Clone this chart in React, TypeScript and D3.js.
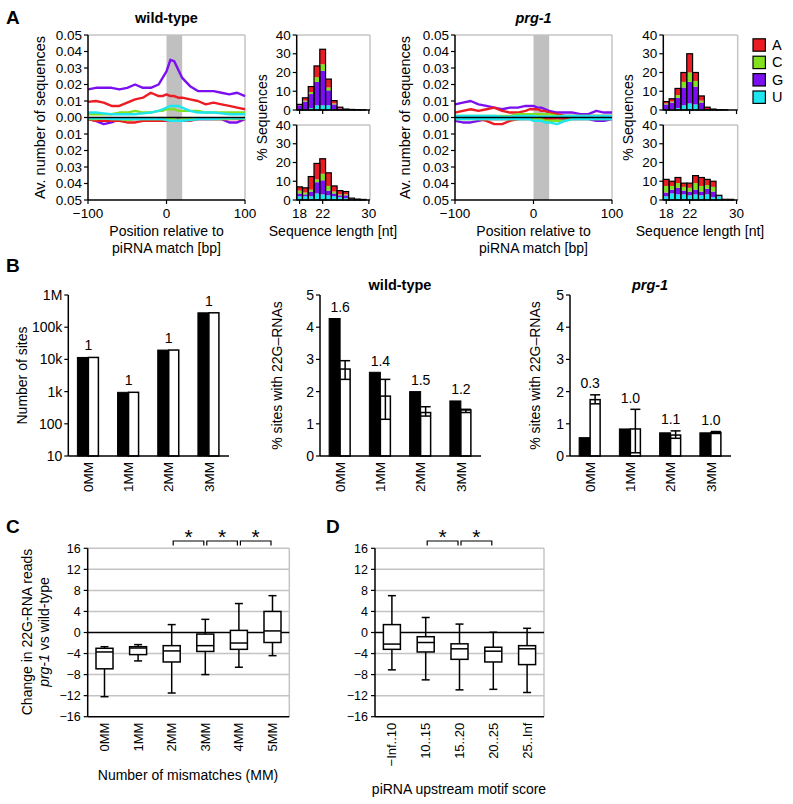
import React from 'react';
import * as d3 from 'd3';

const FONT = '"Liberation Sans", Arial, Helvetica, sans-serif';
const COLORS: Record<string, string> = { A: '#ec1c24', C: '#82e01e', G: '#7b0ff0', U: '#1ee6f0' };
const FRAME = '#c4c4c4';
const NUC_STACK = ['U', 'G', 'C', 'A'];
const LEGEND_KEYS = ['A', 'C', 'G', 'U'];

// ---------- Panel A: profiles ----------
const positions = [-100, -90, -80, -70, -60, -50, -40, -30, -20, -10, -5, 0, 5, 10, 15, 20, 30, 40, 50, 60, 70, 80, 90, 100];

const wtSenseG = [0.017, 0.018, 0.018, 0.018, 0.017, 0.018, 0.020, 0.018, 0.018, 0.020, 0.024, 0.028, 0.035, 0.034, 0.029, 0.024, 0.019, 0.016, 0.016, 0.016, 0.015, 0.014, 0.015, 0.013];
const wtSenseA = [0.0095, 0.010, 0.009, 0.007, 0.007, 0.009, 0.011, 0.012, 0.015, 0.013, 0.013, 0.014, 0.013, 0.013, 0.012, 0.012, 0.011, 0.010, 0.008, 0.009, 0.008, 0.007, 0.006, 0.005];
const wtSenseC = [0.002, 0.002, 0.002, 0.002, 0.003, 0.003, 0.004, 0.003, 0.003, 0.004, 0.004, 0.005, 0.005, 0.005, 0.004, 0.004, 0.004, 0.004, 0.003, 0.003, 0.003, 0.003, 0.003, 0.003];
const wtSenseU = [0.003, 0.003, 0.0025, 0.002, 0.002, 0.002, 0.002, 0.0025, 0.003, 0.004, 0.005, 0.006, 0.007, 0.007, 0.007, 0.006, 0.004, 0.003, 0.003, 0.003, 0.0025, 0.002, 0.002, 0.002];
const wtAntiG = [0.001, 0.002, 0.004, 0.003, 0.001, 0.001, 0.001, 0.001, 0.001, 0.001, 0.0005, 0.0005, 0.0005, 0.001, 0.001, 0.001, 0.001, 0.001, 0.001, 0.001, 0.001, 0.003, 0.003, 0.001];
const wtAntiA = [0.001, 0.002, 0.002, 0.002, 0.002, 0.003, 0.003, 0.002, 0.002, 0.002, 0.002, 0.002, 0.002, 0.002, 0.002, 0.002, 0.002, 0.001, 0.001, 0.001, 0.001, 0.001, 0.001, 0.001];
const wtAntiC = [0.001, 0.001, 0.0005, 0.001, 0.001, 0.0015, 0.001, 0.001, 0.001, 0.001, 0.001, 0.001, 0.001, 0.001, 0.0015, 0.001, 0.001, 0.001, 0.0005, 0.001, 0.001, 0.001, 0.0005, 0.001];
const wtAntiU = [0.0005, 0.0005, 0.0005, 0.001, 0.001, 0.001, 0.001, 0.001, 0.001, 0.001, 0.001, 0.0015, 0.002, 0.002, 0.002, 0.002, 0.0015, 0.001, 0.001, 0.001, 0.0005, 0.0005, 0.0005, 0.0005];

const prgSenseG = [0.008, 0.009, 0.010, 0.008, 0.007, 0.006, 0.005, 0.006, 0.006, 0.007, 0.007, 0.007, 0.006, 0.006, 0.005, 0.004, 0.003, 0.003, 0.003, 0.002, 0.002, 0.004, 0.003, 0.003];
const prgSenseA = [0.003, 0.004, 0.005, 0.004, 0.005, 0.006, 0.004, 0.003, 0.003, 0.004, 0.005, 0.005, 0.005, 0.004, 0.004, 0.003, 0.002, 0.001, 0.001, 0.001, 0.001, 0.001, 0.001, 0.001];
const prgSenseC = [0.001, 0.001, 0.001, 0.001, 0.001, 0.001, 0.001, 0.001, 0.002, 0.002, 0.002, 0.002, 0.002, 0.002, 0.002, 0.002, 0.001, 0.001, 0.001, 0.001, 0.001, 0.001, 0.001, 0.001];
const prgSenseU = [0.001, 0.001, 0.001, 0.001, 0.001, 0.001, 0.0005, 0.0005, 0.001, 0.001, 0.001, 0.001, 0.0005, 0.0005, 0.0005, 0.0005, 0.0005, 0.001, 0.001, 0.001, 0.001, 0.001, 0.001, 0.001];
const prgAntiG = [0.002, 0.003, 0.003, 0.002, 0.001, 0.001, 0.001, 0.001, 0.001, 0.001, 0.001, 0.001, 0.001, 0.002, 0.002, 0.002, 0.002, 0.001, 0.001, 0.001, 0.001, 0.002, 0.002, 0.001];
const prgAntiA = [0.0005, 0.0005, 0.0005, 0.001, 0.002, 0.004, 0.004, 0.002, 0.001, 0.0005, 0.0005, 0.001, 0.001, 0.001, 0.001, 0.001, 0.0005, 0.0005, 0.0005, 0.0005, 0.0005, 0.0005, 0.0005, 0.0005];
const prgAntiC = [0.001, 0.001, 0.001, 0.001, 0.001, 0.001, 0.001, 0.001, 0.001, 0.001, 0.001, 0.001, 0.001, 0.001, 0.002, 0.002, 0.002, 0.002, 0.001, 0.001, 0.001, 0.001, 0.001, 0.001];
const prgAntiU = [0.001, 0.001, 0.001, 0.001, 0.001, 0.001, 0.001, 0.001, 0.001, 0.001, 0.001, 0.002, 0.002, 0.002, 0.003, 0.003, 0.004, 0.002, 0.001, 0.001, 0.001, 0.001, 0.001, 0.001];

// ---------- Panel A: length histograms ----------
const lengths = [18, 19, 20, 21, 22, 23, 24, 25, 26, 27, 28, 29];
const wtTopU = [0, 0.5, 1, 2.5, 2.5, 2.5, 0.5, 0, 0, 0, 0, 0];
const wtTopG = [2.5, 4, 7.5, 12.5, 18.4, 8, 2.5, 0.8, 0.3, 0.2, 0.1, 0.05];
const wtTopC = [0, 0.5, 1, 2.5, 3.5, 1.5, 0.5, 0, 0, 0, 0, 0];
const wtTopA = [0.5, 1.5, 3, 6, 8, 4.5, 1.5, 0.7, 0.2, 0.1, 0.1, 0.05];
const wtBotU = [2, 2, 2, 3.5, 3, 2.5, 2, 1.5, 1, 0.3, 0.1, 0.05];
const wtBotG = [1.5, 1, 2.5, 6, 7.5, 2.5, 1.5, 1, 1.5, 0.4, 0.2, 0.1];
const wtBotC = [1.5, 1, 1, 1.5, 3.5, 2.5, 1, 0.5, 0.5, 0.1, 0.1, 0.05];
const wtBotA = [2, 2.5, 7, 8.5, 8, 7, 3, 2, 1.5, 0.2, 0.1, 0.1];
const prgTopU = [0.5, 0.5, 1, 2.5, 3.5, 3, 0.5, 0, 0, 0, 0, 0];
const prgTopG = [2.5, 3.5, 5.5, 9.5, 11.5, 9.5, 3.5, 0.5, 0.2, 0.1, 0.05, 0];
const prgTopC = [0.5, 0.5, 1.5, 3, 5, 3, 1, 0, 0, 0, 0, 0];
const prgTopA = [1, 1.5, 3.5, 5, 10, 4.5, 2.5, 1, 0.3, 0.1, 0.05, 0];
const prgBotU = [2, 3.5, 3, 3, 2.5, 3, 2.5, 3, 1.5, 2, 0.2, 0.2];
const prgBotG = [2, 2, 3.5, 2, 2, 2.5, 2, 3, 3, 0.3, 0.05, 0.05];
const prgBotC = [3.5, 2, 2.5, 2, 2, 3.5, 3, 2, 2.5, 0.1, 0.05, 0.05];
const prgBotA = [3.5, 2.5, 3, 2, 2.5, 4, 4.5, 3, 3, 0.1, 0.05, 0.05];

// ---------- Panel B ----------
const mmCats = ['0MM', '1MM', '2MM', '3MM'];
const sitesBlack = [11500, 950, 19500, 280000];
const sitesWhite = [11500, 950, 19500, 280000];
const sitesRatio = ['1', '1', '1', '1'];
const sitesTicks = [10, 100, 1000, 10000, 100000, 1000000];
const sitesTickLabels = ['10', '100', '1k', '10k', '100k', '1M'];

const wtPctBlack = [4.27, 2.6, 2.0, 1.71];
const wtPctWhite = [2.7, 1.86, 1.35, 1.43];
const wtPctErrLo = [2.38, 1.14, 1.24, 1.35];
const wtPctErrHi = [2.96, 2.38, 1.53, 1.45];
const wtPctRatio = ['1.6', '1.4', '1.5', '1.2'];

const prgPctBlack = [0.57, 0.84, 0.72, 0.72];
const prgPctWhite = [1.75, 0.84, 0.65, 0.73];
const prgPctErrLo = [1.62, 0.1, 0.55, 0.7];
const prgPctErrHi = [1.9, 1.45, 0.78, 0.76];
const prgPctRatio = ['0.3', '1.0', '1.1', '1.0'];
const pctTicks = [0, 1, 2, 3, 4, 5];

// ---------- Panel C ----------
const cCats = ['0MM', '1MM', '2MM', '3MM', '4MM', '5MM'];
const cLo = [-12.2, -5.4, -11.5, -8.0, -6.6, -4.4];
const cQ1 = [-6.9, -4.2, -5.6, -3.6, -3.2, -1.9];
const cMed = [-3.7, -2.95, -3.5, -2.5, -2.0, 0.3];
const cQ3 = [-3.0, -2.7, -2.5, -0.3, 0.4, 4.0];
const cHi = [-2.7, -2.3, 1.5, 2.5, 5.5, 7.0];
const cSig = [[2, 3], [3, 4], [4, 5]];

// ---------- Panel D ----------
const dCats = ['\u2212Inf..10', '10..15', '15..20', '20..25', '25..Inf'];
const dLo = [-7.1, -9.0, -10.9, -10.8, -11.4];
const dQ1 = [-3.2, -3.7, -5.1, -5.6, -6.1];
const dMed = [-2.2, -1.9, -3.1, -3.55, -3.1];
const dQ3 = [1.5, -0.8, -2.15, -2.8, -2.5];
const dHi = [7.0, 2.85, 1.6, 0.05, 0.8];
const dSig = [[1, 2], [2, 3]];
const boxTicks = [-16, -12, -8, -4, 0, 4, 8, 12, 16];

const fmtMinus = (v: number) => (v < 0 ? '\u2212' + Math.abs(v) : String(v));

// ====================================================
function Profile(props: any) {
  const { x0, x1, y0, y1, sense, anti } = props;
  const xs = d3.scaleLinear().domain([-100, 100]).range([x0, x1]);
  const ys = d3.scaleLinear().domain([-0.05, 0.05]).range([y1, y0]);
  const line = d3.line<number>().x((_, i) => xs(positions[i])).y((d) => ys(d));
  const order = ['G', 'A', 'C', 'U'];
  const yt = d3.range(-5, 6).map((k) => k / 100);
  return (
    <g>
      <rect x={xs(0)} y={y0} width={xs(20) - xs(0)} height={y1 - y0} fill="#c0c0c0" />
      <line x1={x0} x2={x1} y1={y0} y2={y0} stroke={FRAME} strokeWidth={1.5} />
      <line x1={x1} x2={x1} y1={y0} y2={y1} stroke={FRAME} strokeWidth={1.5} />
      {order.map((k) => (
        <path key={'a' + k} d={line(anti[k].map((v: number) => -v)) || ''} fill="none" stroke={COLORS[k]} strokeWidth={2.4} strokeLinejoin="round" />
      ))}
      {order.map((k) => (
        <path key={'s' + k} d={line(sense[k]) || ''} fill="none" stroke={COLORS[k]} strokeWidth={2.4} strokeLinejoin="round" />
      ))}
      <line x1={x0} x2={x1} y1={ys(0)} y2={ys(0)} stroke="#000" strokeWidth={1.5} />
      <line x1={x0} x2={x0} y1={y0} y2={y1} stroke="#000" strokeWidth={1.5} />
      <line x1={x0} x2={x1} y1={y1} y2={y1} stroke="#000" strokeWidth={1.5} />
      {yt.map((t) => (
        <g key={t}>
          <line x1={x0 - 4} x2={x0} y1={ys(t)} y2={ys(t)} stroke="#000" strokeWidth={1.2} />
          <text x={x0 - 6} y={ys(t)} dy="0.35em" textAnchor="end" fontSize={13.5}>{Math.abs(t).toFixed(2)}</text>
        </g>
      ))}
      {[-100, 0, 100].map((t) => (
        <g key={t}>
          <line x1={xs(t)} x2={xs(t)} y1={y1} y2={y1 + 4} stroke="#000" strokeWidth={1.2} />
          <text x={xs(t)} y={y1 + 13} dy="0.35em" textAnchor="middle" fontSize={13.5}>{fmtMinus(t)}</text>
        </g>
      ))}
      <text x={(x0 + x1) / 2} y={231} dy="0.35em" textAnchor="middle" fontSize={14}>Position relative to</text>
      <text x={(x0 + x1) / 2} y={248} dy="0.35em" textAnchor="middle" fontSize={14}>piRNA match [bp]</text>
      <text transform={`translate(${props.ylx},${(y0 + y1) / 2}) rotate(-90)`} dy="0.35em" textAnchor="middle" fontSize={14.5}>Av. number of sequences</text>
      <text x={(x0 + x1) / 2} y={18} dy="0.35em" textAnchor="middle" fontSize={14.5} fontWeight="bold" fontStyle={props.italic ? 'italic' : 'normal'}>{props.title}</text>
    </g>
  );
}

function Hist(props: any) {
  const { x0, x1, y0, y1, data, labels } = props;
  const xs = d3.scaleLinear().domain([17.5, 30.2]).range([x0, x1]);
  const ys = d3.scaleLinear().domain([0, 40]).range([y1, y0]);
  const rows = lengths.map((l, i) => ({ len: l, U: data.U[i], G: data.G[i], C: data.C[i], A: data.A[i] }));
  const stacked = d3.stack<any>().keys(NUC_STACK)(rows);
  return (
    <g>
      <line x1={x0} x2={x1} y1={y0} y2={y0} stroke={FRAME} strokeWidth={1.5} />
      <line x1={x1} x2={x1} y1={y0} y2={y1} stroke={FRAME} strokeWidth={1.5} />
      {stacked.map((s) => (
        <g key={s.key}>
          {s.map((d: any, i: number) => (
            <rect key={i} x={xs(d.data.len - 0.5)} width={xs(d.data.len + 0.5) - xs(d.data.len - 0.5)} y={ys(d[1])} height={Math.max(0, ys(d[0]) - ys(d[1]))} fill={COLORS[s.key]} />
          ))}
        </g>
      ))}
      {rows.map((r, i) => {
        const tot = r.U + r.G + r.C + r.A;
        return <rect key={i} x={xs(r.len - 0.5)} width={xs(r.len + 0.5) - xs(r.len - 0.5)} y={ys(tot)} height={ys(0) - ys(tot)} fill="none" stroke="#000" strokeWidth={1.2} />;
      })}
      <line x1={x0} x2={x0} y1={y0} y2={y1} stroke="#000" strokeWidth={1.5} />
      <line x1={x0} x2={x1} y1={y1} y2={y1} stroke="#000" strokeWidth={1.5} />
      {[0, 10, 20, 30, 40].map((t) => (
        <g key={t}>
          <line x1={x0 - 4} x2={x0} y1={ys(t)} y2={ys(t)} stroke="#000" strokeWidth={1.2} />
          <text x={x0 - 6} y={ys(t)} dy="0.35em" textAnchor="end" fontSize={13.5}>{t}</text>
        </g>
      ))}
      {[18, 22, 30].map((t) => (
        <g key={t}>
          <line x1={xs(t)} x2={xs(t)} y1={y1} y2={y1 + 4} stroke="#000" strokeWidth={1.2} />
          {labels && <text x={xs(t)} y={y1 + 13} dy="0.35em" textAnchor="middle" fontSize={13.5}>{t}</text>}
        </g>
      ))}
    </g>
  );
}

function PairBars(props: any) {
  const { ax, right, ys, black, white, errLo, errHi, ratios, ticks, tickLabels, labelGap } = props;
  const xb = d3.scaleBand<string>().domain(mmCats).range([ax, right]);
  const y0 = ys.range()[0];
  const y1 = ys.range()[1];
  return (
    <g>
      {mmCats.map((c, i) => {
        const cx = (xb(c) as number) + xb.bandwidth() / 2;
        const topV = Math.max(black[i], errHi ? errHi[i] : white[i]);
        return (
          <g key={c}>
            <rect x={cx - 11} width={11} y={ys(black[i])} height={y0 - ys(black[i])} fill="#000" stroke="#000" strokeWidth={1} />
            <rect x={cx} width={10} y={ys(white[i])} height={y0 - ys(white[i])} fill="#fff" stroke="#000" strokeWidth={1.5} />
            {errHi && (
              <g stroke="#000" strokeWidth={1.5}>
                <line x1={cx + 5} x2={cx + 5} y1={ys(errLo[i])} y2={ys(errHi[i])} />
                <line x1={cx} x2={cx + 10} y1={ys(errLo[i])} y2={ys(errLo[i])} />
                <line x1={cx} x2={cx + 10} y1={ys(errHi[i])} y2={ys(errHi[i])} />
              </g>
            )}
            <text x={cx} y={ys(topV) - labelGap} dy="0.35em" textAnchor="middle" fontSize={14}>{ratios[i]}</text>
            <text transform={`translate(${cx},${y0 + 6}) rotate(-90)`} dy="0.35em" textAnchor="end" fontSize={13.5}>{c}</text>
          </g>
        );
      })}
      <line x1={ax} x2={ax} y1={y1} y2={y0} stroke="#000" strokeWidth={1.5} />
      <line x1={ax} x2={right} y1={y0} y2={y0} stroke="#000" strokeWidth={1.5} />
      {ticks.map((t: number, i: number) => (
        <g key={t}>
          <line x1={ax - 4} x2={ax} y1={ys(t)} y2={ys(t)} stroke="#000" strokeWidth={1.2} />
          <text x={ax - 6} y={ys(t)} dy="0.35em" textAnchor="end" fontSize={14}>{tickLabels[i]}</text>
        </g>
      ))}
      <text transform={`translate(${props.ylx},${(y0 + y1) / 2}) rotate(-90)`} dy="0.35em" textAnchor="middle" fontSize={14}>{props.ylabel}</text>
      {props.title && (
        <text x={props.titleX} y={285} dy="0.35em" textAnchor="middle" fontSize={14.5} fontWeight="bold" fontStyle={props.italic ? 'italic' : 'normal'}>{props.title}</text>
      )}
    </g>
  );
}

function BoxPanel(props: any) {
  const { x0, x1, cats, lo, q1, med, q3, hi, sig } = props;
  const y0 = 548.3;
  const y1 = 716.7;
  const ys = d3.scaleLinear().domain([-16, 16]).range([y1, y0]);
  const xb = d3.scaleBand<string>().domain(cats).range([x0, x1]);
  const cxOf = (i: number) => (xb(cats[i]) as number) + xb.bandwidth() / 2;
  const bw = 17;
  return (
    <g>
      {boxTicks.filter((t) => t !== 0 && t !== -16).map((t) => (
        <line key={t} x1={x0} x2={x1} y1={ys(t)} y2={ys(t)} stroke={FRAME} strokeWidth={1.5} />
      ))}
      <line x1={x1} x2={x1} y1={y0} y2={y1} stroke={FRAME} strokeWidth={1.5} />
      <line x1={x0} x2={x1} y1={ys(0)} y2={ys(0)} stroke="#000" strokeWidth={1.5} />
      {cats.map((c: string, i: number) => {
        const cx = cxOf(i);
        return (
          <g key={c} stroke="#000" strokeWidth={1.5}>
            <line x1={cx} x2={cx} y1={ys(hi[i])} y2={ys(q3[i])} />
            <line x1={cx} x2={cx} y1={ys(q1[i])} y2={ys(lo[i])} />
            <line x1={cx - 4} x2={cx + 4} y1={ys(hi[i])} y2={ys(hi[i])} />
            <line x1={cx - 4} x2={cx + 4} y1={ys(lo[i])} y2={ys(lo[i])} />
            <rect x={cx - bw / 2} width={bw} y={ys(q3[i])} height={ys(q1[i]) - ys(q3[i])} fill="#fff" />
            <line x1={cx - bw / 2} x2={cx + bw / 2} y1={ys(med[i])} y2={ys(med[i])} />
          </g>
        );
      })}
      <line x1={x0} x2={x0} y1={y0} y2={y1} stroke="#000" strokeWidth={1.5} />
      <line x1={x0} x2={x1} y1={y1} y2={y1} stroke="#000" strokeWidth={1.5} />
      {boxTicks.map((t) => (
        <g key={t}>
          <line x1={x0 - 4} x2={x0} y1={ys(t)} y2={ys(t)} stroke="#000" strokeWidth={1.2} />
          <text x={x0 - 7} y={ys(t)} dy="0.35em" textAnchor="end" fontSize={12.5}>{fmtMinus(t)}</text>
        </g>
      ))}
      {cats.map((c: string, i: number) => (
        <text key={c} transform={`translate(${cxOf(i)},${y1 + 6}) rotate(-90)`} dy="0.35em" textAnchor="end" fontSize={13}>{c}</text>
      ))}
      {sig.map((p: number[], k: number) => {
        const a = cxOf(p[0]) + 1.5;
        const b = cxOf(p[1]) - 1.5;
        return (
          <g key={k}>
            <path d={`M${a},545.5V541H${b}V545.5`} fill="none" stroke="#000" strokeWidth={1.2} />
            <text x={(a + b) / 2} y={544} textAnchor="middle" fontSize={21}>*</text>
          </g>
        );
      })}
      <text x={props.xtx} y={props.xty} dy="0.35em" textAnchor="middle" fontSize={14}>{props.xtitle}</text>
    </g>
  );
}

export default function App() {
  const wtSense = { A: wtSenseA, C: wtSenseC, G: wtSenseG, U: wtSenseU };
  const wtAnti = { A: wtAntiA, C: wtAntiC, G: wtAntiG, U: wtAntiU };
  const prgSense = { A: prgSenseA, C: prgSenseC, G: prgSenseG, U: prgSenseU };
  const prgAnti = { A: prgAntiA, C: prgAntiC, G: prgAntiG, U: prgAntiU };

  const logY = d3.scaleLog().domain([10, 1e6]).range([456, 295]);
  const pctY = d3.scaleLinear().domain([0, 5]).range([456, 295]);

  return (
    <svg width={793} height={804} style={{ position: 'absolute', left: 0, top: 0, background: '#fff' }} fontFamily={FONT}>
      <rect width={793} height={804} fill="#fff" />
      {/* panel letters */}
      <text x={6} y={24} fontSize={19} fontWeight="bold">A</text>
      <text x={6} y={272} fontSize={19} fontWeight="bold">B</text>
      <text x={6} y={533} fontSize={19} fontWeight="bold">C</text>
      <text x={326} y={533} fontSize={19} fontWeight="bold">D</text>

      <Profile x0={88} x1={245} y0={35} y1={200} sense={wtSense} anti={wtAnti} title="wild-type" ylx={40} />
      <Profile x0={455} x1={612} y0={35} y1={200} sense={prgSense} anti={prgAnti} title="prg-1" italic ylx={405} />

      <Hist x0={296.7} x1={370} y0={35} y1={110} data={{ U: wtTopU, G: wtTopG, C: wtTopC, A: wtTopA }} />
      <Hist x0={296.7} x1={370} y0={125} y1={200} data={{ U: wtBotU, G: wtBotG, C: wtBotC, A: wtBotA }} labels />
      <Hist x0={663.3} x1={737.7} y0={35} y1={110} data={{ U: prgTopU, G: prgTopG, C: prgTopC, A: prgTopA }} />
      <Hist x0={663.3} x1={737.7} y0={125} y1={200} data={{ U: prgBotU, G: prgBotG, C: prgBotC, A: prgBotA }} labels />
      <text transform="translate(262,117.5) rotate(-90)" dy="0.35em" textAnchor="middle" fontSize={14}>% Sequences</text>
      <text transform="translate(628,117.5) rotate(-90)" dy="0.35em" textAnchor="middle" fontSize={14}>% Sequences</text>
      <text x={333} y={231} dy="0.35em" textAnchor="middle" fontSize={14}>Sequence length [nt]</text>
      <text x={700} y={231} dy="0.35em" textAnchor="middle" fontSize={14}>Sequence length [nt]</text>

      {LEGEND_KEYS.map((k, i) => (
        <g key={k}>
          <rect x={753} y={45 + i * 17.4 - 6.2} width={12.4} height={12.4} fill={COLORS[k]} stroke="#000" strokeWidth={1.2} />
          <text x={772} y={45 + i * 17.4} dy="0.35em" fontSize={14.5}>{k}</text>
        </g>
      ))}

      <PairBars ax={68.3} right={229} ys={logY} black={sitesBlack} white={sitesWhite} ratios={sitesRatio} ticks={sitesTicks} tickLabels={sitesTickLabels} labelGap={12} ylabel="Number of sites" ylx={22} />
      <PairBars ax={320} right={481} ys={pctY} black={wtPctBlack} white={wtPctWhite} errLo={wtPctErrLo} errHi={wtPctErrHi} ratios={wtPctRatio} ticks={pctTicks} tickLabels={pctTicks.map(String)} labelGap={11.5} ylabel={'% sites with 22G\u2013RNAs'} ylx={277} title="wild-type" titleX={400} />
      <PairBars ax={570} right={731} ys={pctY} black={prgPctBlack} white={prgPctWhite} errLo={prgPctErrLo} errHi={prgPctErrHi} ratios={prgPctRatio} ticks={pctTicks} tickLabels={pctTicks.map(String)} labelGap={11.5} ylabel={'% sites with 22G\u2013RNAs'} ylx={535} title="prg-1" italic titleX={650} />

      <BoxPanel x0={87.7} x1={289.3} cats={cCats} lo={cLo} q1={cQ1} med={cMed} q3={cQ3} hi={cHi} sig={cSig} xtitle="Number of mismatches (MM)" xtx={188} xty={775} />
      <BoxPanel x0={375} x1={544} cats={dCats} lo={dLo} q1={dQ1} med={dMed} q3={dQ3} hi={dHi} sig={dSig} xtitle="piRNA upstream motif score" xtx={459} xty={789} />
      <text transform="translate(26.7,632) rotate(-90)" dy="0.35em" textAnchor="middle" fontSize={14}>Change in 22G-RNA reads</text>
      <text transform="translate(44,632) rotate(-90)" dy="0.35em" textAnchor="middle" fontSize={14}>
        <tspan fontStyle="italic">prg-1</tspan> vs wild-type
      </text>
    </svg>
  );
}
